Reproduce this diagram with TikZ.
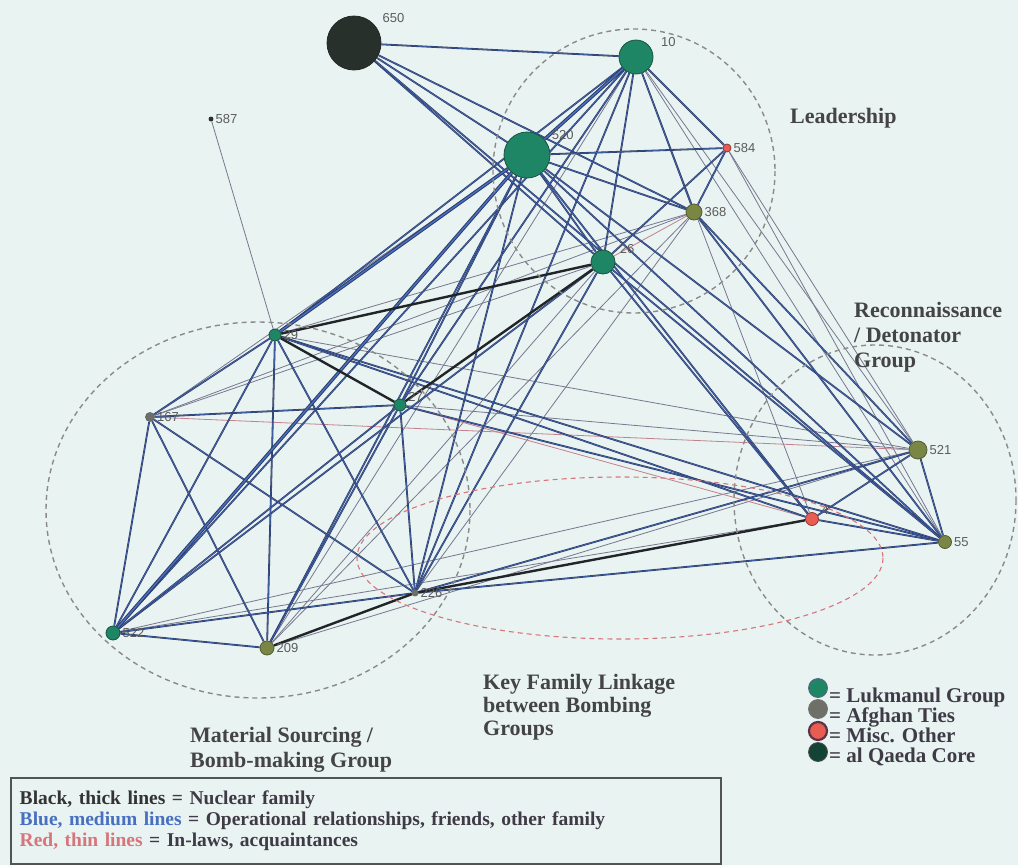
\documentclass[tikz,border=0pt]{standalone}
\usepackage{fontspec}
\setmainfont{Liberation Serif}
\newfontfamily\numfont{Liberation Sans}

\definecolor{paper}{RGB}{233,243,241}
\definecolor{lukman}{RGB}{30,134,100}
\definecolor{lukmanedge}{RGB}{24,84,66}
\definecolor{afghan}{RGB}{122,135,68}
\definecolor{afghanedge}{RGB}{82,92,52}
\definecolor{afghangray}{RGB}{110,112,104}
\definecolor{misc}{RGB}{232,92,82}
\definecolor{miscring}{RGB}{92,52,72}
\definecolor{core}{RGB}{40,48,44}
\definecolor{navy}{RGB}{44,58,102}
\definecolor{opblue}{RGB}{72,112,192}
\definecolor{famblack}{RGB}{34,37,40}
\definecolor{acqgray}{RGB}{118,120,144}
\definecolor{acqred}{RGB}{196,128,140}
\definecolor{ringgray}{RGB}{138,138,138}
\definecolor{ringred}{RGB}{214,118,124}
\definecolor{labelgray}{RGB}{92,92,92}
\definecolor{titlegray}{RGB}{68,68,68}
\definecolor{keytext}{RGB}{62,58,70}
\definecolor{boxgray}{RGB}{80,84,82}

\pgfdeclarelayer{edges}
\pgfsetlayers{edges,main}

\begin{document}
\begin{tikzpicture}[x=1pt,y=-1pt,
  person/.style={circle, inner sep=0pt, line width=0.8pt},
  lk/.style={person, fill=lukman, draw=lukmanedge},
  af/.style={person, fill=afghan, draw=afghanedge},
  ag/.style={person, fill=afghangray, draw=black!60},
  ms/.style={person, fill=misc, draw=misc!60!black},
  cr/.style={person, fill=core, draw=black!85},
  num/.style={font=\numfont\fontsize{13}{13}\selectfont, text=labelgray, inner sep=1pt},
  every label/.style={num},
  fam/.style={draw=famblack, line width=2.4pt},
  op/.style={draw=navy, line width=1.8pt, postaction={draw=opblue, line width=0.5pt}},
  opdbl/.style={draw=navy, line width=1pt, double=opblue, double distance=1.4pt},
  acq/.style={draw=acqgray, line width=0.8pt},
  acqr/.style={draw=acqred, line width=0.8pt},
  ring/.style={draw=ringgray, line width=1.4pt, dash pattern=on 5pt off 4pt},
  redring/.style={draw=ringred, line width=1.1pt, dash pattern=on 5pt off 4pt},
  grp/.style={font=\fontsize{22}{25}\selectfont\bfseries, text=titlegray, inner sep=0pt, align=left},
  keytxt/.style={font=\fontsize{21}{21}\selectfont\bfseries, text=keytext, inner sep=0pt},
]
\useasboundingbox (0,0) rectangle (1018,865);

% people
\node[cr, minimum size=54pt, label={[label distance=6pt]35:650}] (n650) at (354,43) {};
\node[lk, minimum size=34pt, label={[label distance=8pt]20:10}] (n10) at (636,57) {};
\node[lk, minimum size=46pt, label={[label distance=4pt]30:520}] (n520) at (527,155) {};
\node[ms, minimum size=8pt, label={[label distance=1pt]east:584}] (n584) at (727,148) {};
\node[af, minimum size=16pt, label={[label distance=1pt]east:368}] (n368) at (694,212) {};
\node[lk, minimum size=24pt, label={[label distance=5pt]25:26}] (n26) at (603,262) {};
\node[cr, minimum size=4pt, label={[label distance=1pt]east:587}] (n587) at (211,119) {};
\node[lk, minimum size=12pt, label={[label distance=1pt]east:29}] (n29) at (275,335) {};
\node[lk, minimum size=12pt, label={[label distance=1pt]15:27}] (n27) at (400,405) {};
\node[ag, minimum size=9pt, label={[label distance=1pt]east:167}] (n167) at (150,417) {};
\node[af, minimum size=18pt, label={[label distance=1pt]east:521}] (n521) at (918,450) {};
\node[ms, minimum size=13pt, label={[label distance=2pt]20:4}] (n4) at (812,519) {};
\node[af, minimum size=13pt, label={[label distance=1pt]east:55}] (n55) at (945,542) {};
\node[ag, minimum size=6pt, label={[label distance=1pt]east:226}] (n226) at (415,593) {};
\node[lk, minimum size=14pt, label={[label distance=1pt]east:522}] (n522) at (113,633) {};
\node[af, minimum size=14pt, label={[label distance=1pt]east:209}] (n209) at (267,648) {};

% group names
\node[grp, anchor=north west] (leadlab) at (790,108) {Leadership};
\node[grp, anchor=north west] (reconlab) at (854,302) {Reconnaissance\\/ Detonator\\Group};
\node[grp, anchor=north west, font=\fontsize{22}{23}\selectfont\bfseries] (kinlab) at (483,674) {Key Family Linkage\\between Bombing\\Groups};
\node[grp, anchor=north west] (matlab) at (190,727) {Material Sourcing /\\Bomb-making Group};

% colour key
\node[lk, draw=navy!80, minimum size=19pt] (keylk) at (818,688) {};
\node[person, fill=afghangray, draw=black!55, minimum size=19pt] (keyaf) at (818,709) {};
\node[person, fill=misc, draw=miscring, line width=2.2pt, minimum size=18pt] (keyms) at (818,731) {};
\node[person, fill=lukmanedge!80!black, draw=black!70, minimum size=19pt] (keycr) at (818,752) {};
\node[keytxt, anchor=base west] (keylkt) at (829,702) {= Lukmanul Group};
\node[keytxt, anchor=base west] (keyaft) at (829,722) {= Afghan Ties};
\node[keytxt, anchor=base west] (keymst) at (829,742) {= Misc. Other};
\node[keytxt, anchor=base west] (keycrt) at (829,762) {= al Qaeda Core};

% line key
\node[draw=boxgray, line width=1.5pt, anchor=north west, minimum width=710pt, minimum height=86pt,
      inner xsep=9pt, text width=692pt, align=left,
      font=\fontsize{19.5}{21}\selectfont\bfseries, text=keytext] (linekey) at (10,777)
  {\textcolor{black!80}{Black, thick lines} = Nuclear family\\
   \textcolor{opblue}{Blue, medium lines} = Operational relationships, friends, other family\\
   \textcolor{ringred}{Red, thin lines} = In-laws, acquaintances};

\begin{pgfonlayer}{edges}
  \fill[paper] (0,0) rectangle (1018,865);

  % in-laws, acquaintances
  \foreach \a/\b in {n587/n29, n10/n209, n10/n4, n10/n521, n584/n55, n584/n521,
                     n368/n29, n368/n167, n368/n226, n26/n167, n26/n209, n368/n209,
                     n29/n521, n27/n521, n522/n521, n522/n4, n209/n521, n520/n167,
                     n10/n55}
    \draw[acq] (\a) -- (\b);
  \foreach \a/\b in {n368/n26, n167/n521, n27/n4}
    \draw[acqr] (\a) -- (\b);

  % operational ties, friends, other family
  \foreach \a/\b in {n650/n10, n650/n520, n650/n26, n650/n368, n650/n55,
                     n10/n584, n10/n368, n10/n26, n10/n29, n10/n27, n10/n522, n10/n226,
                     n520/n584, n520/n368, n520/n26, n520/n27, n520/n226, n520/n209,
                     n520/n521, n520/n55, n520/n4,
                     n584/n368, n584/n26, n368/n55, n368/n521,
                     n26/n522, n26/n226, n26/n55, n26/n4,
                     n29/n167, n29/n522, n29/n209, n29/n226, n29/n55, n29/n4,
                     n27/n167, n27/n522, n27/n226, n27/n209, n27/n55,
                     n167/n522, n167/n209, n167/n226,
                     n522/n209, n522/n226, n226/n521, n226/n55,
                     n4/n521, n4/n55, n521/n55}
    \draw[op] (\a) -- (\b);
  \foreach \a/\b in {n520/n29, n520/n522, n10/n520}
    \draw[opdbl] (\a) -- (\b);

  % nuclear family
  \foreach \a/\b in {n29/n26, n29/n27, n27/n26, n226/n4, n209/n226}
    \draw[fam] (\a) -- (\b);

  % group outlines
  \draw[ring] (634,171) ellipse [x radius=141, y radius=142];
  \draw[ring] (258,510) ellipse [x radius=212, y radius=188];
  \draw[ring] (875,500) ellipse [x radius=141, y radius=155];
  \draw[redring] (620,558) ellipse [x radius=263, y radius=81];
\end{pgfonlayer}
\end{tikzpicture}
\end{document}
